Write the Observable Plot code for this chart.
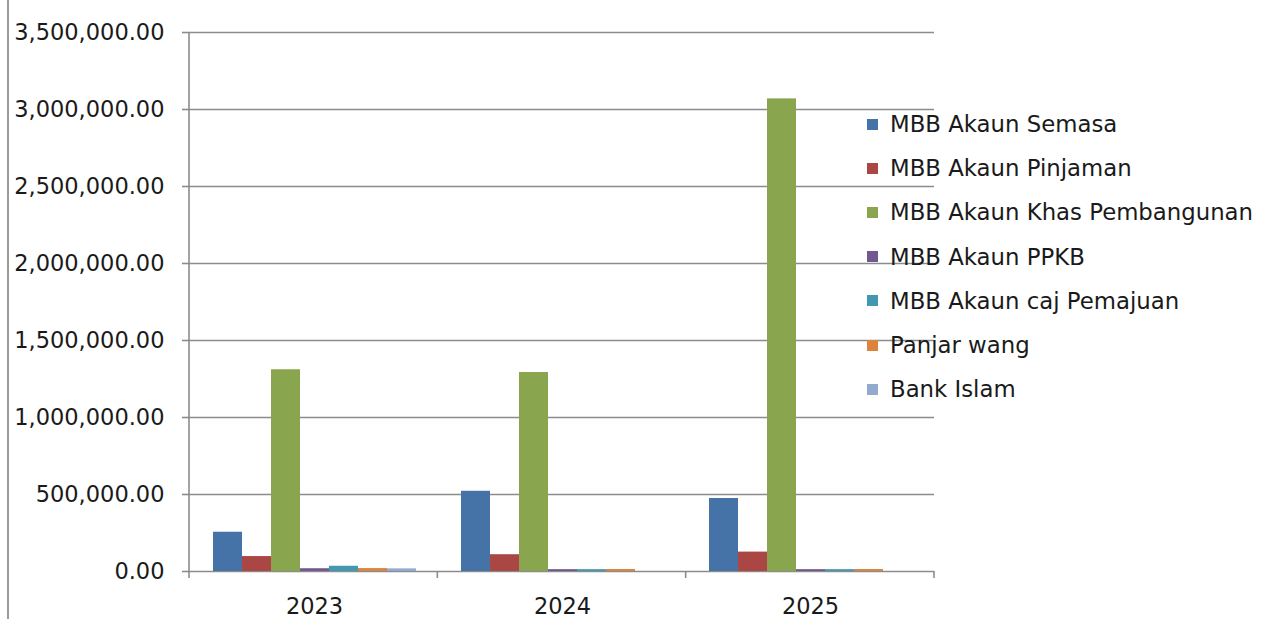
<!DOCTYPE html>
<html>
<head>
<meta charset="utf-8">
<script src="https://cdn.jsdelivr.net/npm/d3@7"></script>
<script src="https://cdn.jsdelivr.net/npm/@observablehq/plot@0.6"></script>
<style>
  html, body { margin: 0; padding: 0; background: #fff; }
  #wrap { position: relative; width: 1263px; height: 619px; overflow: hidden; font-family: "DejaVu Sans", sans-serif; }
  #border { position: absolute; left: 7px; top: 0; width: 0; height: 619px; border-left: 2px solid #9a9a9a; }
  #legend { position: absolute; left: 867px; top: 102px; }
  .item { display: flex; align-items: center; height: 44.2px; font-size: 22.8px; color: #1a1a1a; white-space: nowrap; }
  .sw { width: 11px; height: 11px; margin-right: 12px; }
</style>
</head>
<body>
<div id="wrap"><div id="border"></div><div id="legend"></div></div>
<script>
const years = ["2023", "2024", "2025"];
const seriesNames = [
  "MBB Akaun Semasa",
  "MBB Akaun Pinjaman",
  "MBB Akaun Khas Pembangunan",
  "MBB Akaun PPKB",
  "MBB Akaun caj Pemajuan",
  "Panjar wang",
  "Bank Islam"
];
const seriesColors = ["#4572A7", "#AA4643", "#89A54E", "#71588F", "#4198AF", "#DB843D", "#93A9CF"];
const semasa    = [255000, 521000, 474000];
const pinjaman  = [97000, 109000, 126000];
const khas      = [1310000, 1292000, 3069000];
const ppkb      = [18000, 12000, 12000];
const cajPemaju = [34000, 12000, 12000];
const panjar    = [19000, 13000, 13000];
const bankIslam = [17000, 0, 0];
const yTicks = [0, 500000, 1000000, 1500000, 2000000, 2500000, 3000000, 3500000];

const seriesValues = [semasa, pinjaman, khas, ppkb, cajPemaju, panjar, bankIslam];
const data = [];
years.forEach((yr, i) => seriesNames.forEach((s, j) => data.push({year: yr, series: s, value: seriesValues[j][i]})));

const W = 1263, H = 619;
const mL = 189, mR = 329, mT = 32, mB = 48;
const gridColor = "#8c8c8c";

const plot = Plot.plot({
  width: W, height: H,
  marginLeft: mL, marginRight: mR, marginTop: mT, marginBottom: mB,
  style: {fontFamily: "DejaVu Sans, sans-serif", fontSize: "22.5px", color: "#1a1a1a", background: "transparent"},
  fx: {domain: years, padding: 0, label: null, axis: null},
  x: {domain: seriesNames, paddingInner: 0, paddingOuter: 0.7, axis: null},
  y: {domain: [0, 3500000], label: null, axis: null},
  color: {domain: seriesNames, range: seriesColors},
  marks: [
    Plot.ruleY(yTicks, {stroke: gridColor, strokeWidth: 1.6}),
    Plot.barY(data, {fx: "year", x: "series", y: "value", fill: "series"}),
    Plot.axisY({ticks: yTicks, tickFormat: d3.format(",.2f"), tickSize: 8, tickPadding: 18, stroke: gridColor, strokeWidth: 1.6, label: null, fontSize: 22.5}),
    Plot.axisFx({anchor: "bottom", tickSize: 0, tickPadding: 27, label: null, fontSize: 22.5})
  ]
});

// axis line and category boundary ticks from the library's scales
const svg = d3.select(plot);
const fx = plot.scale("fx");
const y = plot.scale("y");
const fxScale = d3.scaleBand().domain(fx.domain).range(fx.range).padding(0);
const bounds = fx.domain.map(d => fxScale(d)).concat([fxScale.range()[1]]);
const y0 = y.apply(0), yTop = y.apply(3500000);
const g = svg.append("g").attr("stroke", gridColor).attr("stroke-width", 1.6);
g.append("line").attr("x1", mL).attr("x2", mL).attr("y1", yTop).attr("y2", y0 + 0.5);
bounds.forEach(b => g.append("line").attr("x1", b).attr("x2", b).attr("y1", y0).attr("y2", y0 + 7));

document.getElementById("wrap").prepend(plot);
plot.style.position = "absolute"; plot.style.left = "0"; plot.style.top = "0";

const legend = d3.select("#legend");
seriesNames.forEach((s, i) => {
  const it = legend.append("div").attr("class", "item");
  it.append("div").attr("class", "sw").style("background", seriesColors[i]);
  it.append("span").text(s);
});
</script>
</body>
</html>
